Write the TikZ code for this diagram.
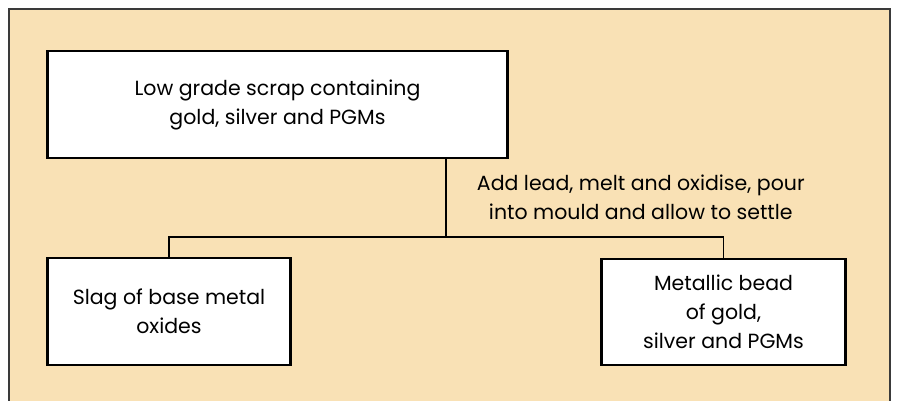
\documentclass[tikz,border=0pt]{standalone}
\usepackage{fontspec}
\setmainfont{Poppins}
\usepackage{tikz}
\usetikzlibrary{positioning,calc}
\definecolor{panel}{HTML}{F9E1B5}
\definecolor{frame}{HTML}{3A3A3A}

\begin{document}
\begin{tikzpicture}[
    x=1pt, y=-1pt,
    stagebox/.style={rectangle, draw=black, line width=1.2pt, fill=white, text centered, align=center, font=\fontsize{20.5}{29}\selectfont},
    side/.style={line width=3.5pt},
    link/.style={line width=1.3pt},
    note/.style={align=center, font=\fontsize{20.5}{29}\selectfont}
]

% background panel
\useasboundingbox (0,0) rectangle (897,401);
\draw[frame, line width=2pt, fill=panel] (9,9) rectangle (890,420);

% boxes
\node (scrap) [stagebox, minimum width=459pt, minimum height=107pt] at (277.5,104.5) {Low grade scrap containing\\gold, silver and PGMs};
\node (slag) [stagebox, minimum width=242pt, minimum height=107pt] at (169,311.5) {Slag of base metal\\oxides};
\node (bead) [stagebox, minimum width=243pt, minimum height=106pt] at (723.5,312) {Metallic bead\\of gold,\\silver and PGMs};

% thick sides
\foreach \n in {scrap,slag,bead}
  \draw[side] (\n.north west) -- (\n.south west) (\n.north east) -- (\n.south east);

% split point
\coordinate (split) at (446,237);

% connectors
\draw[link] (scrap.south -| split) -- node (addlead) [note, anchor=west, xshift=27pt, yshift=1pt] {Add lead, melt and oxidise, pour\\into mould and allow to settle} (split);
\draw[link] (slag.north) |- (split) -| (bead.north);

\end{tikzpicture}
\end{document}
